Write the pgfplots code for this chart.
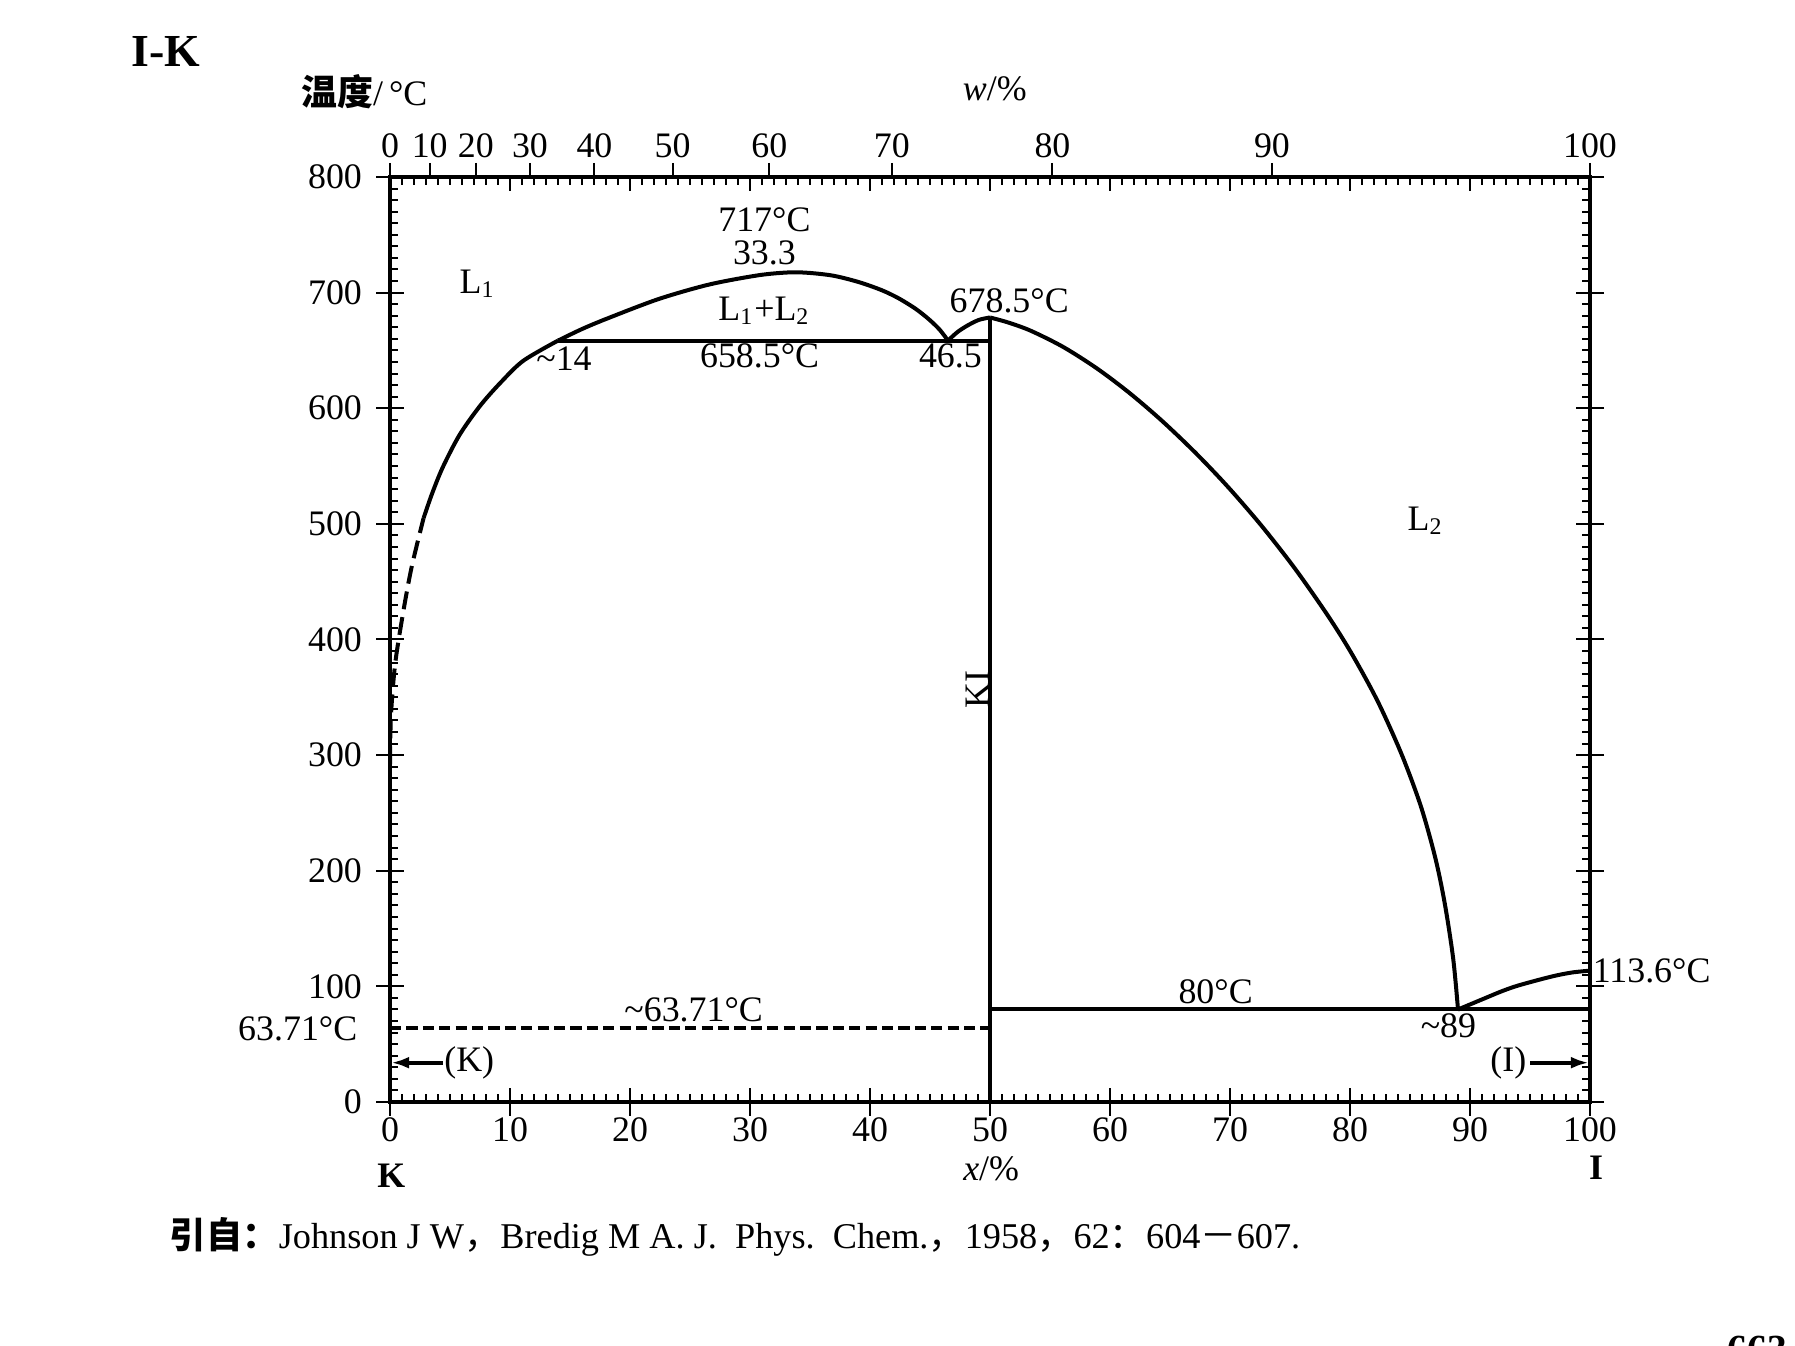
\documentclass[border=0pt]{standalone}
\usepackage{fontspec}
\setmainfont{Liberation Serif}
\newfontfamily\cjk{Noto Sans CJK SC}
\usepackage{pgfplots}
\pgfplotsset{compat=1.18}
\usetikzlibrary{arrows.meta}

\begin{document}
\begin{tikzpicture}[font=\fontsize{9}{11}\selectfont]
\useasboundingbox (-97.5bp,-61bp) rectangle (351.25bp,275.5bp);
\pgfplotsset{every axis/.append style={at={(0,0)},anchor=south west,
  width=300bp,height=231.25bp,scale only axis,
  xmin=0,xmax=100,ymin=0,ymax=800,
  /pgf/number format/assume math mode=true,
  tick label style={font=\fontsize{9}{11}\selectfont},
  axis line style={line width=0.8bp},
  every tick/.style={black,line width=0.5bp}},
  pl/.style={black,line width=1bp,mark=none}}

% inside ticks: every 1 mol% and every 10 degC, on all four sides
\begin{axis}[
  xtick={0,10,...,100}, ytick={0,100,...,800},
  minor x tick num=9, minor y tick num=9,
  xticklabels={}, yticklabels={},
  tick align=inside, major tick length=3.5bp, minor tick length=2bp,
  xtick pos=both, ytick pos=both]
\end{axis}

% top scale: w/%
\begin{axis}[
  axis x line*=top, axis y line=none,
  xtick={0,3.310,7.152,11.665,17.041,23.555,31.609,41.825,55.207,73.496,100},
  xticklabels={0,10,20,30,40,50,60,70,80,90,100},
  tick align=outside, major tick length=3.5bp,
  xticklabel style={yshift=-2.2bp}]
\end{axis}

% main axis with the diagram
\begin{axis}[
  xtick={0,10,...,100}, ytick={0,100,...,800},
  tick align=outside, major tick length=3.5bp,
  xtick pos=left, ytick pos=both,
  yticklabel pos=left,
  xticklabel style={yshift=3bp},
  clip=false]

% L1 liquidus near K (along the axis, then dashed, then solid)
\addplot[pl] coordinates {(0,63.71) (0,292)};
\addplot[pl,smooth,tension=0.5,dash pattern=on 4.5bp off 2bp] coordinates {(0,292) (0.08,334) (0.42,378) (1.04,420) (1.79,462) (2.8,505)};
\addplot[pl,smooth,tension=0.5] coordinates {(2.8,505) (3.5,526) (4.4,549) (5.8,577) (7.5,602) (9.2,622) (11.1,641) (14,658.5)};
% miscibility gap
\addplot[pl,smooth,tension=0.5] coordinates {(14,658.5) (16,668.5) (18.2,678) (22.4,694.5) (26.6,707) (30.7,715) (33.3,717.5) (35,717) (37,714.5) (39.1,709) (41,702) (42.4,695) (43.8,686) (44.9,677) (45.8,668) (46.5,658.5)};
\addplot[pl,smooth,tension=0.5] coordinates {(46.5,658.5) (47.3,666) (48.2,672) (49.1,676.5) (50,678.5)};
% KI liquidus
\addplot[pl,smooth,tension=0.5] coordinates {(50,678.5) (51.5,674.2) (53.4,667) (56.1,653) (58.9,634.5) (61.6,613.4) (64.3,589.4) (67.1,561.7) (69.8,532.3) (72.6,498.7) (75.4,461.5) (78.1,421.5) (80.1,388.5) (82.3,346.7) (84.3,300.7) (85.9,255.9) (87.1,211.5) (87.9,171.5) (88.6,123.9) (89,80)};
% I liquidus
\addplot[pl,smooth,tension=0.5] coordinates {(89,80) (91.3,90) (92.7,96) (94.1,101) (96.8,108.5) (98.5,112) (100,113.6)};
% invariant lines
\addplot[pl] coordinates {(14,658.5) (50,658.5)};
\addplot[pl] coordinates {(50,80) (100,80)};
\addplot[pl] coordinates {(50,0) (50,678.5)};
\addplot[pl,dash pattern=on 2.8bp off 1.3bp] coordinates {(0,63.71) (50,63.71)};

% annotations
\node[inner sep=0pt] at (axis cs:31.2,763) {717°C};
\node[inner sep=0pt] at (axis cs:31.2,734) {33.3};
\node at (axis cs:7.3,708) {L\textsubscript{1}};
\node at (axis cs:31.2,684) {L\textsubscript{1}+L\textsubscript{2}};
\node at (axis cs:51.6,693) {678.5°C};
\node at (axis cs:14.5,643) {\textasciitilde14};
\node at (axis cs:30.8,645) {658.5°C};
\node at (axis cs:46.7,645) {46.5};
\node[rotate=90] at (axis cs:49.0,357) {KI};
\node at (axis cs:86.3,503) {L\textsubscript{2}};
\node at (axis cs:68.8,95) {80°C};
\node at (axis cs:88.2,66) {\textasciitilde89};
\node[anchor=west,inner sep=0.5bp] at (axis cs:100,113.6) {113.6°C};
\node at (axis cs:25.3,80) {\textasciitilde63.71°C};
\node[anchor=east,inner sep=0pt] at ([xshift=-8bp]axis cs:0,63.71) {63.71°C};
\draw[line width=1bp,-{Latex[length=4.5bp,width=3bp]}] (axis cs:4.4,34) -- (axis cs:0.1,34);
\node at (axis cs:6.6,34) {(K)};
\draw[line width=1bp,-{Latex[length=4.5bp,width=3bp]}] (axis cs:95,34) -- (axis cs:99.9,34);
\node at (axis cs:93.2,34) {(I)};
\end{axis}

% labels outside the axis
\node[font=\fontsize{11.5}{13}\selectfont\bfseries] at (-56bp,262.6bp) {I-K};
\node at (-6.4bp,252.6bp) {{\cjk\bfseries 温度}/\,°C};
\node at (151.2bp,253.3bp) {\textit{w}/\%};
\node[font=\fontsize{9}{11}\selectfont\bfseries] at (0.3bp,-18.4bp) {K};
\node[font=\fontsize{9}{11}\selectfont\bfseries] at (301.5bp,-16.4bp) {I};
\node at (150.3bp,-16.7bp) {\textit{x}/\%};
\node[anchor=west,inner sep=0pt,font=\fontsize{9.1}{11}\selectfont] at (-55.2bp,-33.6bp)
  {{\cjk\bfseries 引自：}Johnson J W{\cjk ，}Bredig M A. J.\enspace Phys.\enspace Chem.{\cjk ，}1958{\cjk ，}62{\cjk ：}604{\cjk －}607.};
\node[anchor=north,inner sep=0pt,font=\fontsize{10}{12}\selectfont\bfseries] at (341.8bp,-58.3bp) {663};
\end{tikzpicture}
\end{document}
